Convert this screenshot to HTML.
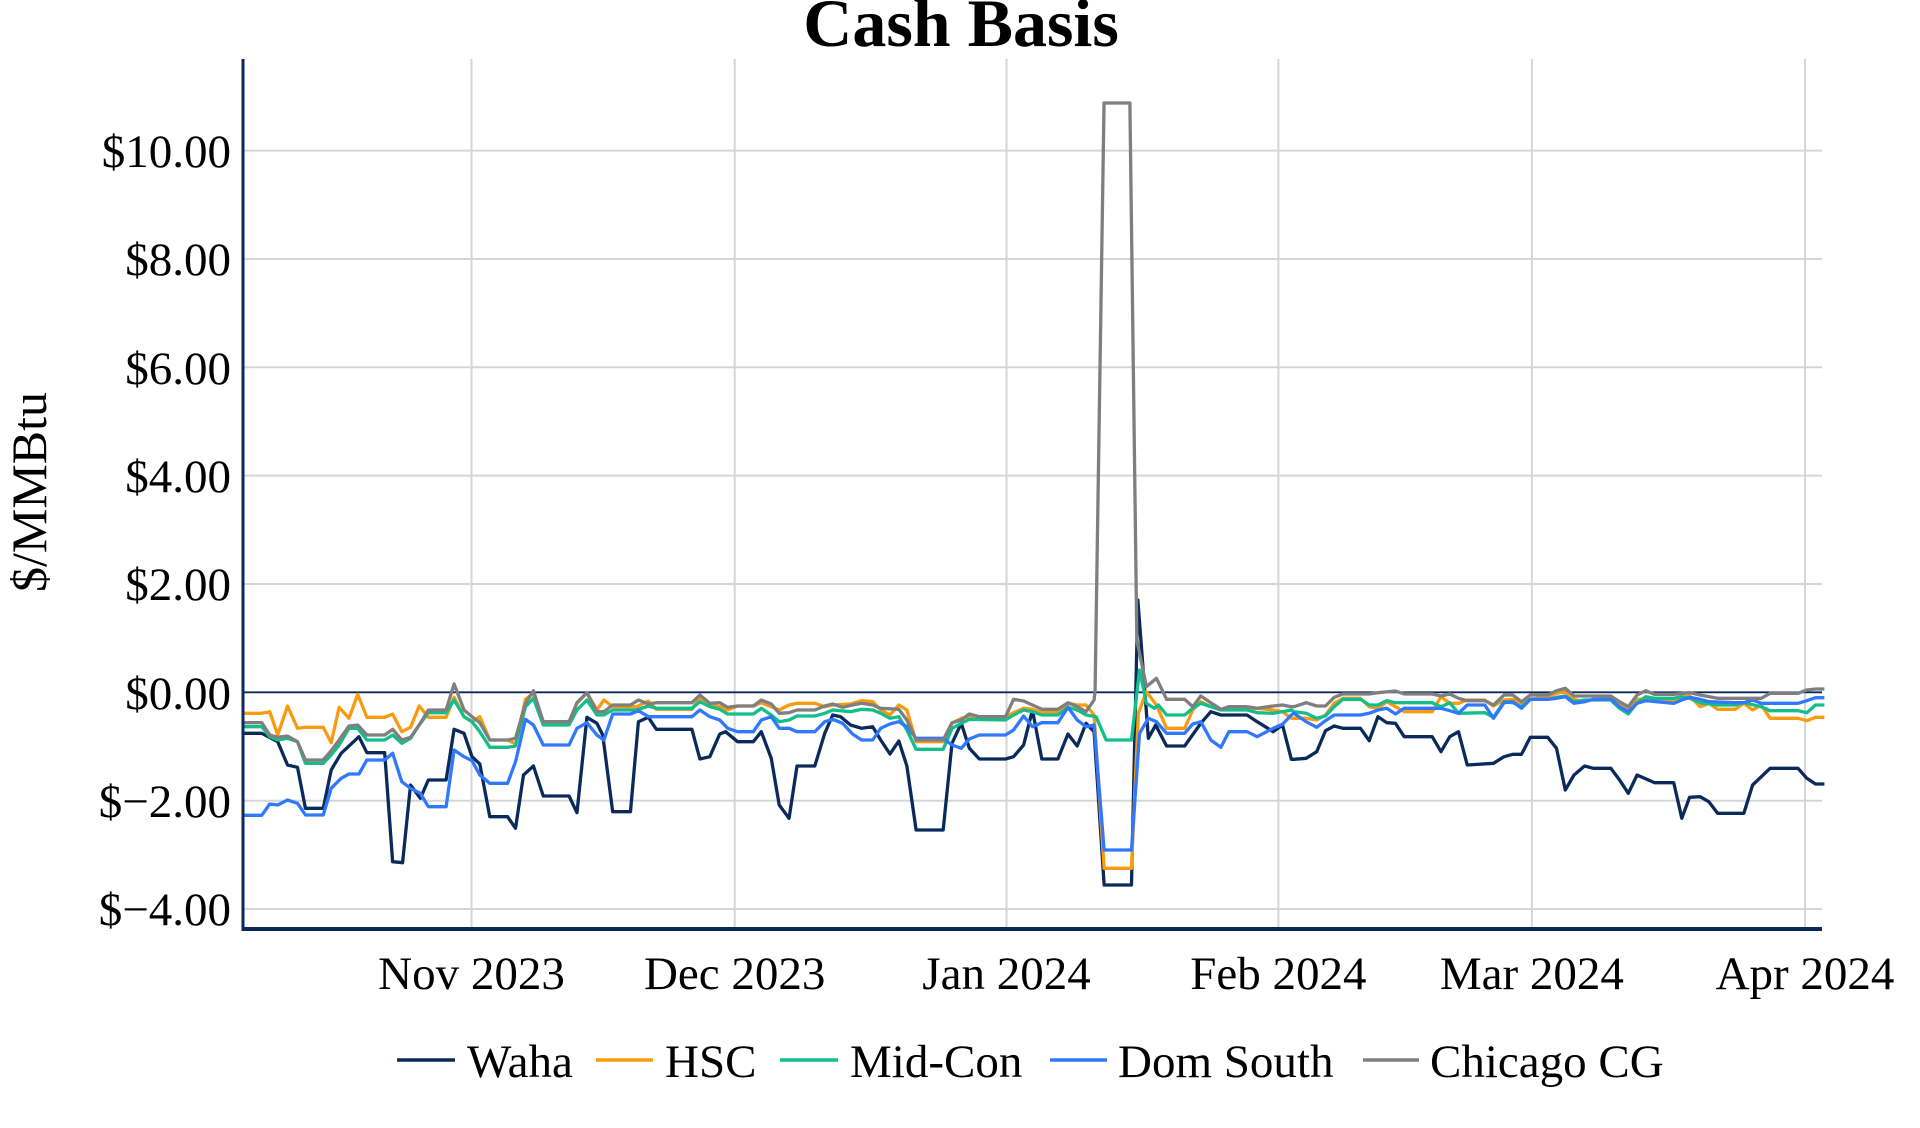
<!DOCTYPE html>
<html><head><meta charset="utf-8"><style>
html,body{margin:0;padding:0;background:#fff;}
svg{display:block;}
text{font-family:"Liberation Serif",serif;fill:#000;}
</style></head><body>
<svg id="s" width="1920" height="1128" viewBox="0 0 1920 1128" xmlns="http://www.w3.org/2000/svg">
<g stroke="#d6d6d6" stroke-width="2">
<line x1="244" x2="1822" y1="150.6" y2="150.6"/>
<line x1="244" x2="1822" y1="259" y2="259"/>
<line x1="244" x2="1822" y1="367.3" y2="367.3"/>
<line x1="244" x2="1822" y1="475.6" y2="475.6"/>
<line x1="244" x2="1822" y1="584" y2="584"/>
<line x1="244" x2="1822" y1="800.7" y2="800.7"/>
<line x1="244" x2="1822" y1="909" y2="909"/>
<line x1="471.5" x2="471.5" y1="59" y2="928"/>
<line x1="734.7" x2="734.7" y1="59" y2="928"/>
<line x1="1006.5" x2="1006.5" y1="59" y2="928"/>
<line x1="1278.4" x2="1278.4" y1="59" y2="928"/>
<line x1="1531.9" x2="1531.9" y1="59" y2="928"/>
<line x1="1805" x2="1805" y1="59" y2="928"/>
</g>
<line x1="244" x2="1822" y1="692.3" y2="692.3" stroke="#0a2a5c" stroke-width="1.8"/>
<g transform="translate(243,0) scale(0.99427,1) translate(-243,0)"><g id="series" fill="none" stroke-width="3.3" stroke-linejoin="round"></g></g>
<line x1="243" x2="243" y1="59" y2="931" stroke="#0a2a5c" stroke-width="3"/>
<line x1="242" x2="1822" y1="929" y2="929" stroke="#0a2a5c" stroke-width="4"/>
<g font-size="47" text-anchor="end">
<text x="231" y="167">$10.00</text>
<text x="231" y="275">$8.00</text>
<text x="231" y="384">$6.00</text>
<text x="231" y="492">$4.00</text>
<text x="231" y="600">$2.00</text>
<text x="231" y="709">$0.00</text>
<text x="231" y="817">$−2.00</text>
<text x="231" y="925">$−4.00</text>
</g>
<g font-size="47" text-anchor="middle">
<text x="471.5" y="989">Nov 2023</text>
<text x="734.7" y="989">Dec 2023</text>
<text x="1006.5" y="989">Jan 2024</text>
<text x="1278.4" y="989">Feb 2024</text>
<text x="1531.9" y="989">Mar 2024</text>
<text x="1805" y="989">Apr 2024</text>
</g>
<text x="961" y="46" font-size="68" font-weight="bold" text-anchor="middle">Cash Basis</text>
<text transform="translate(46,492) rotate(-90)" font-size="50" text-anchor="middle">$/MMBtu</text>
<g stroke-width="3.5">
<line x1="397" x2="455" y1="1060" y2="1060" stroke="#0a2a5c"/>
<line x1="596" x2="653" y1="1060" y2="1060" stroke="#fa9b0f"/>
<line x1="780" x2="838" y1="1060" y2="1060" stroke="#12bf8a"/>
<line x1="1050" x2="1107" y1="1060" y2="1060" stroke="#3079ff"/>
<line x1="1363" x2="1419" y1="1060" y2="1060" stroke="#7f7f7f"/>
</g>
<g font-size="47">
<text x="467" y="1077">Waha</text>
<text x="665" y="1077">HSC</text>
<text x="850" y="1077">Mid-Con</text>
<text x="1118" y="1077">Dom South</text>
<text x="1430" y="1077">Chicago CG</text>
</g>
</svg>
<script>
function m(pts,ox,sx){var r=[];for(var i=0;i<pts.length;i+=2){r.push([ox+pts[i]/sx,660+pts[i+1]/3]);}return r;}
function cut(a,lo,hi){return a.filter(function(p){return p[0]>=lo&&p[0]<hi;});}
function build(z2,z3,z4,extra){
 var a=cut(m(z2,240,2.508),0,870),b=cut(m(z3,850,2.47),870,1300),c=m(z4,1300,2.84);
 var all=a.concat(b).concat(c);
 if(extra){all=all.concat(extra);all.sort(function(p,q){return p[0]-q[0];});}
 return all.map(function(p){return p[0].toFixed(1)+","+p[1].toFixed(1);}).join(" ");
}
var S={
waha:{c:"#0a2a5c",
z2:[10,220,55,220,95,245,120,315,145,322,165,445,210,445,230,330,255,280,300,230,320,278,365,278,385,605,410,608,430,375,455,415,475,360,520,360,540,208,565,220,585,290,605,312,630,470,675,470,695,505,715,345,740,318,765,408,830,408,850,458,875,172,900,190,915,225,940,455,985,455,1005,185,1030,172,1050,208,1140,208,1160,297,1185,290,1210,222,1225,215,1255,245,1295,245,1315,215,1340,295,1360,435,1385,475,1405,318,1450,318,1475,220,1495,165,1515,170,1540,195,1568,205],
z3:[0,190,20,200,65,200,85,240,108,282,130,243,150,318,173,510,240,510,262,250,285,190,305,265,330,297,395,297,415,290,440,255,462,150,485,297,525,297,550,222,573,258,595,190,615,215,640,675,708,675,750,235,768,195,795,258,840,258,880,190,905,155,930,165,995,165,1020,185,1060,215,1083,195,1105,298],
z4:[0,298,35,295,65,275,90,212,115,198,140,205,190,205,215,242,240,170,265,188,290,190,315,230,395,230,420,275,445,230,470,215,495,315,570,310,600,290,625,283,650,283,675,232,725,232,750,265,775,390,800,345,830,318,855,325,905,325,930,360,955,400,980,345,1030,368,1085,368,1108,475,1130,412,1160,410,1185,425,1210,460,1285,460,1310,375,1360,325,1440,325,1465,355,1490,372,1515,372],
ex:[[1143,600]]},
hsc:{c:"#fa9b0f",
z2:[10,160,55,160,75,155,95,225,120,138,145,205,165,202,210,202,230,248,250,142,275,175,297,103,320,172,365,172,385,162,408,215,430,202,452,138,475,172,520,172,540,112,565,170,585,185,605,170,630,240,675,240,695,252,720,118,740,100,765,190,830,190,850,130,875,98,900,150,918,120,940,140,1000,140,1030,123,1050,148,1140,148,1160,113,1185,135,1210,140,1230,150,1255,138,1295,138,1315,128,1340,140,1360,150,1385,135,1405,130,1450,130,1475,140,1495,135,1540,132,1568,122],
z3:[0,130,20,125,65,125,85,150,108,165,130,135,150,150,173,245,240,245,262,190,285,175,305,170,395,170,415,158,440,145,462,148,485,158,525,158,550,130,573,135,595,135,615,165,640,625,708,625,725,160,745,95,770,135,795,205,840,205,860,150,880,125,905,140,930,148,995,148,1020,145,1060,150,1083,155,1105,175],
z4:[0,175,35,175,65,180,90,165,115,130,140,115,190,115,215,140,240,145,265,125,290,140,315,155,395,155,420,110,445,130,470,130,495,120,545,120,570,138,600,120,625,118,650,130,675,118,725,110,750,100,775,95,800,118,830,125,855,118,905,118,930,135,955,148,980,118,1030,120,1085,120,1108,112,1130,108,1160,140,1185,130,1210,148,1260,148,1285,130,1310,150,1335,135,1360,175,1440,175,1465,182,1490,172,1515,172]},
mc:{c:"#12bf8a",
z2:[10,200,55,200,75,230,95,240,120,235,145,245,165,310,210,310,230,285,250,255,275,205,297,205,320,240,365,240,385,225,408,250,430,235,452,195,475,158,520,158,540,120,565,170,585,185,605,215,630,262,675,262,695,258,720,140,740,115,765,195,830,195,850,150,875,120,900,165,918,165,940,150,1000,150,1030,138,1050,145,1140,145,1160,125,1185,140,1210,148,1230,162,1295,162,1315,145,1340,165,1360,185,1385,180,1405,168,1450,168,1475,160,1495,150,1540,155,1568,148],
z3:[0,155,20,150,65,150,85,160,108,175,130,170,150,210,173,268,240,268,262,205,285,190,305,178,395,180,415,165,440,150,462,155,485,165,525,165,550,142,573,150,595,165,620,170,645,240,708,240,728,30,745,130,765,145,775,135,795,165,840,165,860,145,880,130,905,140,930,150,995,150,1020,158,1060,160,1083,155,1105,150],
z4:[0,155,35,160,65,175,90,168,115,140,140,118,190,118,215,135,240,135,265,122,290,128,395,128,420,140,445,128,470,160,545,158,570,172,600,125,625,128,650,140,675,118,725,118,750,112,775,108,800,125,830,120,905,120,930,145,955,162,980,128,1005,110,1030,115,1085,115,1108,110,1130,115,1160,128,1210,135,1260,135,1285,128,1335,140,1360,152,1440,152,1465,158,1490,135,1515,135]},
ds:{c:"#3079ff",
z2:[10,466,55,466,75,432,95,435,120,420,145,430,165,465,210,465,230,385,255,355,275,342,300,342,320,300,365,300,385,280,408,365,430,385,455,400,475,440,520,440,540,270,565,290,585,302,605,345,630,370,675,370,695,305,720,178,740,195,765,255,830,255,850,205,875,188,900,225,918,240,940,162,985,162,1005,152,1030,170,1140,170,1160,150,1185,170,1210,180,1230,205,1255,215,1295,215,1315,180,1340,170,1360,205,1385,205,1405,215,1450,215,1475,185,1495,178,1520,190,1545,222,1568,240],
z3:[0,210,20,240,65,240,85,205,108,192,130,185,150,200,173,235,240,235,262,255,285,265,305,237,330,225,395,225,415,210,440,168,462,200,485,188,525,188,550,142,573,180,595,200,615,195,640,570,708,570,728,220,750,175,770,185,795,220,840,220,860,192,880,185,905,240,930,262,950,215,995,215,1020,230,1060,205,1083,193,1105,165],
z4:[0,160,35,185,65,202,90,182,115,165,190,165,215,160,240,150,265,145,290,162,315,145,420,145,445,152,470,160,495,135,545,135,570,175,600,128,625,125,650,145,675,118,725,118,750,115,775,110,800,130,830,125,855,118,905,118,930,140,955,155,980,130,1005,122,1085,130,1108,120,1130,112,1160,118,1185,125,1260,128,1285,128,1310,120,1335,130,1440,130,1465,122,1490,113,1515,113]},
cg:{c:"#7f7f7f",
z2:[10,188,55,188,75,225,95,232,120,228,145,245,165,300,210,300,230,272,250,240,275,198,297,195,320,225,365,225,385,208,408,240,430,232,452,195,475,150,520,150,540,72,565,150,585,170,605,188,630,240,675,240,695,235,720,130,740,92,765,185,830,185,850,128,875,98,900,155,918,155,940,135,985,135,1005,120,1030,132,1050,128,1140,128,1160,105,1185,130,1210,128,1230,142,1255,138,1295,138,1315,120,1340,132,1360,160,1385,158,1405,150,1450,150,1475,138,1495,132,1520,142,1545,135,1568,130],
z3:[0,140,20,135,65,135,85,145,130,148,150,180,173,240,240,240,262,188,285,180,305,162,330,170,395,170,415,118,440,123,462,135,485,148,525,148,550,128,573,140,595,155,615,120,745,80,770,55,795,118,840,118,860,140,880,108,905,128,930,148,950,140,995,140,1020,145,1060,138,1083,135,1105,140],
z4:[0,140,35,128,65,138,90,138,115,112,140,102,215,102,240,98,290,93,315,102,395,102,420,108,445,102,470,115,495,122,545,122,570,135,600,105,625,105,650,125,675,105,725,105,750,92,775,85,800,108,905,108,930,125,955,140,980,105,1005,92,1030,103,1085,103,1130,98,1160,105,1210,115,1285,115,1335,115,1360,100,1440,100,1465,90,1490,87,1515,87],
ex:[[1100,690],[1109,103],[1135,103],[1142,640]]}
};
var g=document.getElementById("series"),ns="http://www.w3.org/2000/svg";
["waha","hsc","mc","ds","cg"].forEach(function(k){var s=S[k];var p=document.createElementNS(ns,"polyline");p.setAttribute("points",build(s.z2,s.z3,s.z4,s.ex));p.setAttribute("stroke",s.c);p.setAttribute("vector-effect","non-scaling-stroke");g.appendChild(p);});
</script>
</body></html>
